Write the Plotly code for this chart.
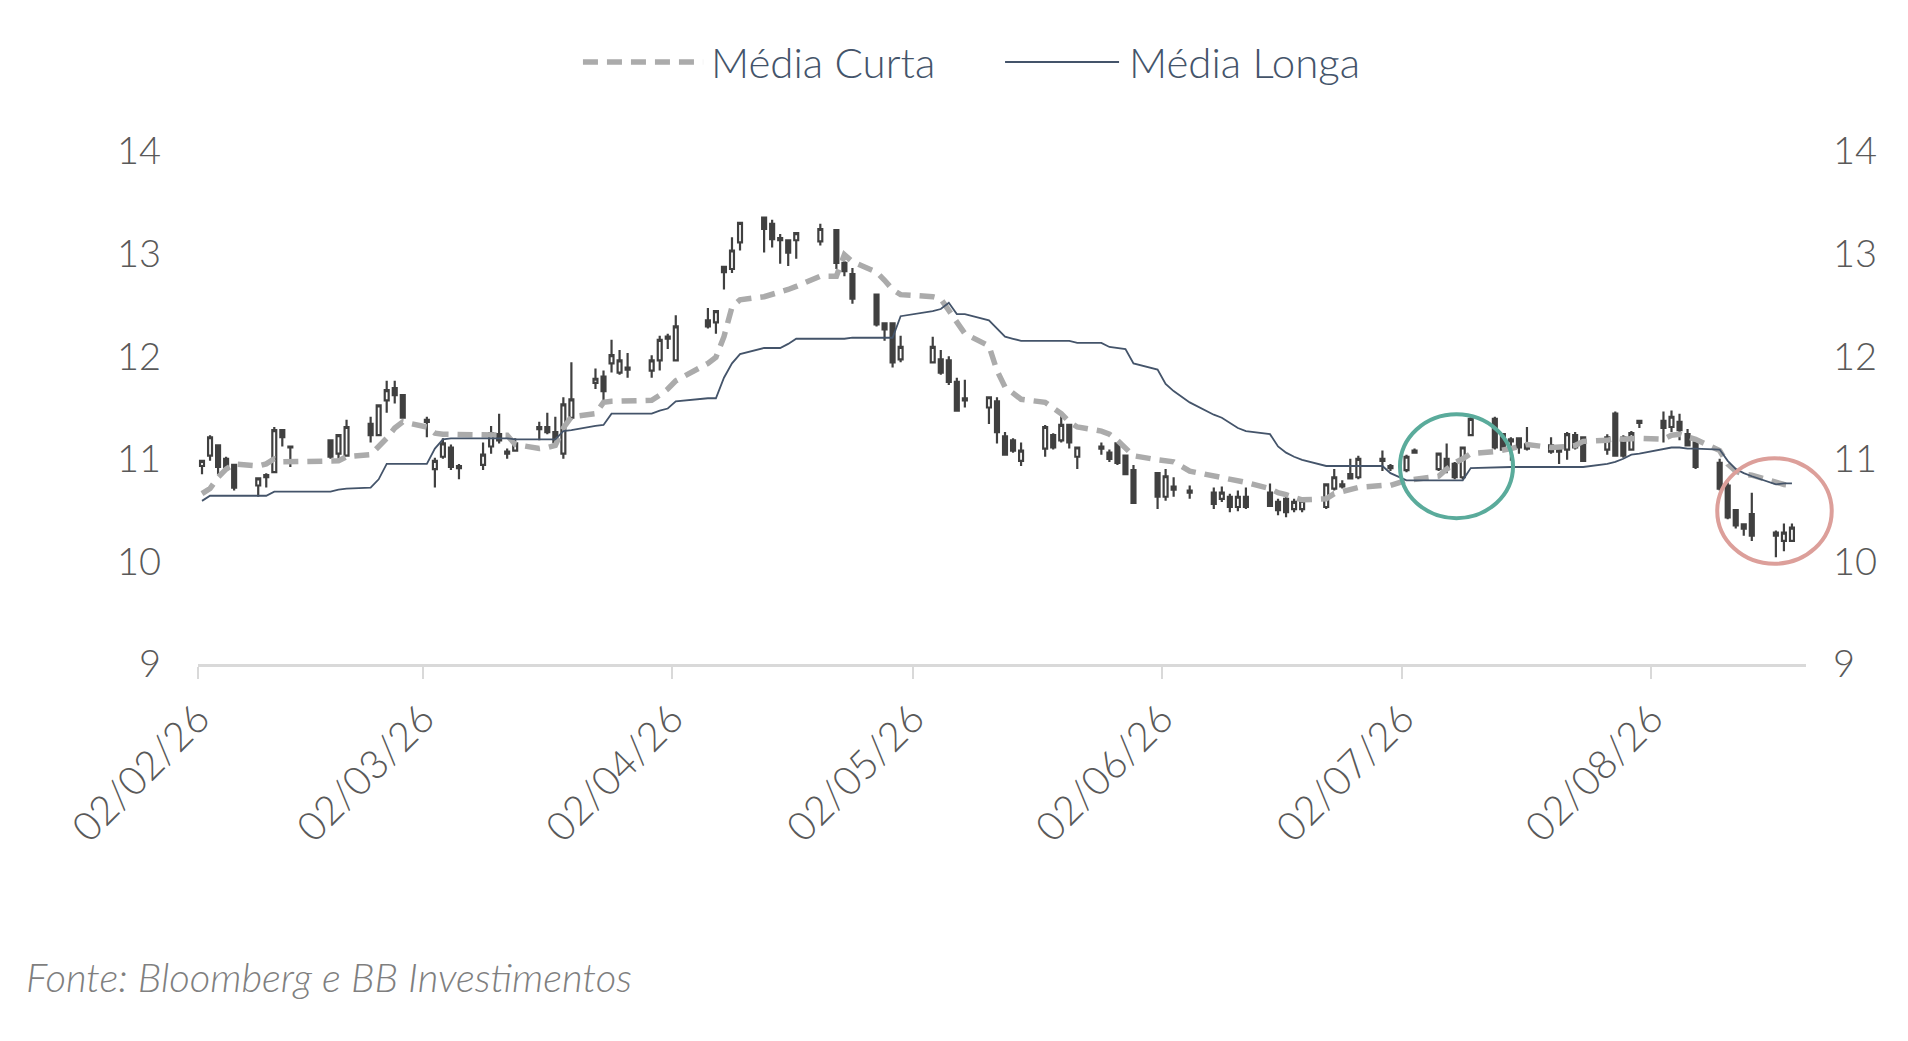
import pandas as pd
import plotly.graph_objects as go

# ── Dados ─────────────────────────────────────────────────────────────────────
# pregões de 02/02/26 a 19/08/26 (sem carnaval, feriados e 01/07 sem vela)
sem_pregao = ["2026-02-16", "2026-02-17", "2026-04-03", "2026-04-21",
              "2026-05-01", "2026-06-04", "2026-07-01"]
datas = pd.bdate_range("2026-02-02", "2026-08-19", freq="C", holidays=sem_pregao)

abertura = [
    10.93, 11.03, 11.13, 11.00, 10.94, 10.74, 10.84, 10.87, 11.28, 11.12, 11.18, 11.05, 11.03, 11.34, 11.23, 11.57, 11.69, 11.62,
    11.38, 10.90, 11.02, 11.11, 10.93, 10.94, 11.12, 11.24, 11.07, 11.08, 11.31, 11.31, 11.26, 11.05, 11.40, 11.74, 11.80, 11.93, 11.84, 11.89, 11.86, 11.96,
    12.19, 11.96, 12.35, 12.33, 12.87, 12.85, 13.11, 13.35, 13.29, 13.15, 13.13, 13.13, 13.12, 13.23, 12.91, 12.80, 12.60, 12.32, 12.32, 11.97,
    11.94, 11.97, 11.96, 11.75, 11.59, 11.50, 11.56, 11.22, 11.18, 10.98, 11.10, 11.23, 11.18, 11.33, 11.02, 11.12, 11.06, 11.15, 11.03, 10.89,
    10.86, 10.63, 10.73, 10.69, 10.67, 10.61, 10.63, 10.53, 10.63, 10.67, 10.58, 10.61, 10.51, 10.51, 10.53, 10.71, 10.75, 10.85, 10.82, 11.00, 10.93,
    10.89, 11.06, 10.90, 11.00, 10.95, 10.82, 11.23, 11.39, 11.24, 11.17, 11.20, 11.14, 11.13, 11.09, 11.09, 11.23, 11.21, 11.09, 11.44, 11.21, 11.09, 11.35,
    11.37, 11.31, 11.36, 11.24, 11.16, 10.96, 10.74, 10.50, 10.36, 10.46, 10.28, 10.20, 10.20,
]
maxima = [
    10.99, 11.23, 11.14, 11.02, 10.95, 10.82, 10.86, 11.31, 11.29, 11.13, 11.19, 11.24, 11.38, 11.41, 11.53, 11.76, 11.76, 11.63,
    11.41, 11.01, 11.20, 11.14, 10.95, 11.16, 11.32, 11.44, 11.10, 11.20, 11.36, 11.45, 11.41, 11.60, 11.94, 11.88, 11.86, 12.16, 12.06, 12.03, 12.01, 12.20,
    12.22, 12.40, 12.47, 12.45, 12.88, 13.16, 13.31, 13.36, 13.33, 13.19, 13.14, 13.21, 13.29, 13.24, 12.93, 12.86, 12.61, 12.33, 12.33, 12.20,
    12.19, 12.06, 12.00, 11.79, 11.77, 11.61, 11.60, 11.26, 11.20, 11.16, 11.33, 11.25, 11.42, 11.34, 11.12, 11.16, 11.09, 11.16, 11.04, 10.94,
    10.87, 10.90, 10.82, 10.74, 10.72, 10.73, 10.66, 10.69, 10.72, 10.76, 10.61, 10.63, 10.61, 10.61, 10.76, 10.90, 10.79, 11.00, 11.03, 11.08, 10.95,
    11.04, 11.10, 11.06, 11.15, 10.97, 11.12, 11.41, 11.41, 11.25, 11.21, 11.21, 11.31, 11.21, 11.11, 11.26, 11.26, 11.22, 11.24, 11.46, 11.23, 11.27, 11.38,
    11.46, 11.47, 11.44, 11.29, 11.18, 11.00, 10.77, 10.51, 10.37, 10.67, 10.30, 10.37, 10.37,
]
minima = [
    10.85, 10.98, 10.85, 10.88, 10.69, 10.63, 10.72, 10.86, 11.12, 10.92, 11.00, 11.00, 11.02, 11.16, 11.22, 11.45, 11.54, 11.39,
    11.21, 10.72, 11.00, 10.89, 10.80, 10.89, 11.05, 11.15, 11.00, 11.07, 11.18, 11.24, 11.14, 11.00, 11.38, 11.68, 11.57, 11.84, 11.82, 11.79, 11.79, 11.86,
    12.07, 11.95, 12.27, 12.22, 12.65, 12.81, 13.03, 13.01, 13.06, 12.90, 12.88, 12.95, 13.08, 12.85, 12.78, 12.51, 12.29, 12.15, 11.89, 11.94,
    11.93, 11.82, 11.72, 11.46, 11.50, 11.34, 11.15, 11.03, 11.06, 10.93, 11.02, 11.09, 11.16, 11.10, 10.90, 11.04, 10.97, 10.94, 10.84, 10.56,
    10.51, 10.59, 10.63, 10.61, 10.51, 10.58, 10.48, 10.49, 10.51, 10.53, 10.45, 10.43, 10.48, 10.48, 10.51, 10.69, 10.71, 10.80, 10.80, 10.88, 10.88,
    10.87, 11.05, 10.88, 10.86, 10.80, 10.80, 11.22, 11.09, 11.08, 10.98, 11.05, 11.08, 11.05, 10.95, 10.99, 11.09, 10.97, 11.04, 11.02, 11.01, 11.08, 11.30,
    11.16, 11.26, 11.18, 11.12, 10.90, 10.69, 10.41, 10.32, 10.25, 10.20, 10.04, 10.10, 10.19,
]
fechamento = [
    10.98, 11.21, 10.92, 10.92, 10.72, 10.81, 10.82, 11.28, 11.21, 11.11, 11.02, 11.23, 11.31, 11.23, 11.52, 11.67, 11.62, 11.40,
    11.36, 10.98, 11.15, 10.92, 10.91, 11.04, 11.25, 11.18, 11.05, 11.15, 11.29, 11.26, 11.16, 11.53, 11.58, 11.78, 11.66, 12.01, 11.96, 11.87, 11.96, 12.16,
    12.17, 12.29, 12.29, 12.44, 12.82, 13.03, 13.30, 13.24, 13.14, 13.13, 13.01, 13.20, 13.24, 12.91, 12.83, 12.56, 12.31, 12.26, 11.94, 12.09,
    12.09, 11.84, 11.75, 11.47, 11.57, 11.60, 11.26, 11.04, 11.08, 11.08, 11.31, 11.11, 11.33, 11.16, 11.11, 11.10, 11.00, 10.96, 10.85, 10.57,
    10.63, 10.83, 10.70, 10.67, 10.56, 10.67, 10.53, 10.63, 10.53, 10.54, 10.50, 10.48, 10.58, 10.59, 10.75, 10.82, 10.73, 10.81, 11.00, 10.98, 10.91,
    11.02, 11.08, 11.05, 10.90, 10.82, 11.11, 11.39, 11.11, 11.09, 11.19, 11.11, 11.10, 11.07, 11.07, 11.24, 11.11, 10.98, 11.21, 11.03, 11.03, 11.25, 11.37,
    11.30, 11.41, 11.28, 11.13, 10.92, 10.71, 10.43, 10.35, 10.32, 10.25, 10.25, 10.28, 10.33,
]
media_curta = [
    10.66, 10.71, 10.82, 10.90, 10.95, 10.93, 10.95, 11.00, 10.97, 10.97, 10.97, 10.98, 11.02, 11.04, 11.12, 11.20, 11.30, 11.36,
    11.31, 11.25, 11.24, 11.24, 11.24, 11.24, 11.23, 11.24, 11.23, 11.14, 11.10, 11.11, 11.13, 11.30, 11.41, 11.44, 11.55, 11.56, 11.56, 11.57, 11.57, 11.62,
    11.68, 11.76, 11.93, 11.99, 12.19, 12.48, 12.55, 12.58, 12.60, 12.62, 12.65, 12.68, 12.78, 12.78, 12.99, 12.92, 12.82, 12.74, 12.65, 12.60,
    12.58, 12.56, 12.45, 12.33, 12.22, 12.10, 11.86, 11.70, 11.64, 11.58, 11.55, 11.50, 11.44, 11.36, 11.31, 11.27, 11.24, 11.18, 11.11, 11.03,
    10.99, 10.98, 10.97, 10.88, 10.83, 10.82, 10.81, 10.79, 10.77, 10.71, 10.67, 10.65, 10.63, 10.60, 10.61, 10.66, 10.68, 10.70, 10.72, 10.74, 10.74,
    10.79, 10.80, 10.83, 10.90, 10.96, 11.00, 11.05, 11.07, 11.08, 11.10, 11.12, 11.14, 11.11, 11.11, 11.12, 11.13, 11.17, 11.18, 11.20, 11.19, 11.20, 11.20,
    11.19, 11.23, 11.24, 11.22, 11.19, 11.08, 10.95, 10.88, 10.85, 10.84, 10.77, 10.75, 10.74,
]
media_longa = [
    10.59, 10.64, 10.64, 10.64, 10.64, 10.64, 10.64, 10.68, 10.68, 10.68, 10.68, 10.70, 10.71, 10.72, 10.80, 10.95, 10.95, 10.95,
    10.95, 11.10, 11.19, 11.20, 11.20, 11.20, 11.20, 11.20, 11.20, 11.19, 11.19, 11.19, 11.19, 11.27, 11.28, 11.32, 11.33, 11.44, 11.44, 11.44, 11.44, 11.47,
    11.49, 11.56, 11.59, 11.59, 11.79, 11.93, 12.02, 12.08, 12.08, 12.08, 12.12, 12.17, 12.17, 12.17, 12.17, 12.18, 12.18, 12.18, 12.18, 12.39,
    12.44, 12.46, 12.52, 12.41, 12.41, 12.35, 12.27, 12.19, 12.17, 12.15, 12.15, 12.15, 12.15, 12.15, 12.13, 12.13, 12.09, 12.08, 12.07, 11.93,
    11.87, 11.73, 11.66, 11.55, 11.43, 11.40, 11.35, 11.30, 11.27, 11.24, 11.12, 11.06, 11.02, 10.99, 10.93, 10.93, 10.93, 10.93, 10.93, 10.93, 10.86,
    10.79, 10.79, 10.79, 10.79, 10.79, 10.79, 10.91, 10.92, 10.92, 10.92, 10.92, 10.92, 10.92, 10.92, 10.92, 10.92, 10.92, 10.95, 10.97, 11.00, 11.04, 11.05,
    11.09, 11.11, 11.11, 11.10, 11.10, 11.09, 10.98, 10.90, 10.86, 10.83, 10.75, 10.76, 10.76,
]

meses_tick = ["2026-02-02", "2026-03-02", "2026-04-02", "2026-05-02",
              "2026-06-02", "2026-07-02", "2026-08-02"]
rotulos_tick = ["02/02/26", "02/03/26", "02/04/26", "02/05/26",
                "02/06/26", "02/07/26", "02/08/26"]

# velas no meio do dia (eixo de datas estilo Excel)
x_dias = datas + pd.Timedelta(hours=12)

CINZA_VELA = "#404040"
CINZA_MEDIA = "#ababab"
AZUL = "#44546a"

fig = go.Figure()
fig.add_trace(go.Candlestick(
    x=x_dias, open=abertura, high=maxima, low=minima, close=fechamento,
    increasing=dict(line=dict(color=CINZA_VELA, width=2.2), fillcolor="#ffffff"),
    decreasing=dict(line=dict(color=CINZA_VELA, width=2.2), fillcolor=CINZA_VELA),
    whiskerwidth=0, showlegend=False, name="Preço",
))
fig.add_trace(go.Scatter(
    x=x_dias, y=media_curta, mode="lines", name="Média Curta",
    line=dict(color=CINZA_MEDIA, width=5.5, dash="15px,9px"),
))
fig.add_trace(go.Scatter(
    x=x_dias, y=media_longa, mode="lines", name="Média Longa", yaxis="y2",
    line=dict(color=AZUL, width=1.8),
))

eixo_y = dict(range=[9, 14], dtick=1, showgrid=False, zeroline=False,
              showline=False, ticks="",
              tickfont=dict(size=38, color="#595959"))

fig.update_layout(
    width=1908, height=1041,
    margin=dict(l=198, r=102, t=151, b=377),
    paper_bgcolor="white", plot_bgcolor="white",
    font=dict(family="Lato", weight=300, color="#595959", size=38),
    showlegend=False,
    xaxis=dict(
        type="date", range=["2026-02-02", "2026-08-21 06:00"],
        tickvals=meses_tick, ticktext=rotulos_tick, tickangle=-45,
        showgrid=False, zeroline=False, showline=True,
        linecolor="#d9d9d9", linewidth=3,
        ticks="outside", ticklen=12, tickwidth=2, tickcolor="#d9d9d9",
        tickfont=dict(size=40, color="#595959"),
        rangeslider=dict(visible=False),
    ),
    yaxis=dict(eixo_y, ticklabelstandoff=36),
    yaxis2=dict(eixo_y, overlaying="y", side="right", ticklabelstandoff=26),
)

# legenda desenhada à mão (amostras de 120 px como no original)
LEG_Y = 1.1735
fig.add_shape(type="line", xref="paper", yref="paper", x0=0.2394, x1=0.3141, y0=LEG_Y, y1=LEG_Y,
              line=dict(color=CINZA_MEDIA, width=5.5, dash="15px,9px"))
fig.add_shape(type="line", xref="paper", yref="paper", x0=0.5019, x1=0.5728, y0=LEG_Y, y1=LEG_Y,
              line=dict(color=AZUL, width=1.8))
fig.add_annotation(text="Média Curta", xref="paper", yref="paper", x=0.3178, y=LEG_Y,
                   xanchor="left", yanchor="middle", showarrow=False,
                   font=dict(size=42, color=AZUL))
fig.add_annotation(text="Média Longa", xref="paper", yref="paper", x=0.5777, y=LEG_Y,
                   xanchor="left", yanchor="middle", showarrow=False,
                   font=dict(size=42, color=AZUL))

# destaques (círculos)
fig.add_shape(type="circle", xref="paper", yref="paper",
              x0=0.7475, x1=0.8178, y0=0.2843, y1=0.4869,
              line=dict(color="#5aab9b", width=4))
fig.add_shape(type="circle", xref="paper", yref="paper",
              x0=0.9448, x1=1.016, y0=0.1953, y1=0.4012,
              line=dict(color="#dc9f9a", width=4))

fig.add_annotation(text="Fonte: Bloomberg e BB Investimentos", xref="paper", yref="paper",
                   x=-0.1082, y=-0.610, xanchor="left", yanchor="middle", showarrow=False,
                   font=dict(size=40, color="#7f7f7f", style="italic"))

fig.write_html("out.html", config={"displayModeBar": False},
               post_script="document.body.style.margin='0px';")
